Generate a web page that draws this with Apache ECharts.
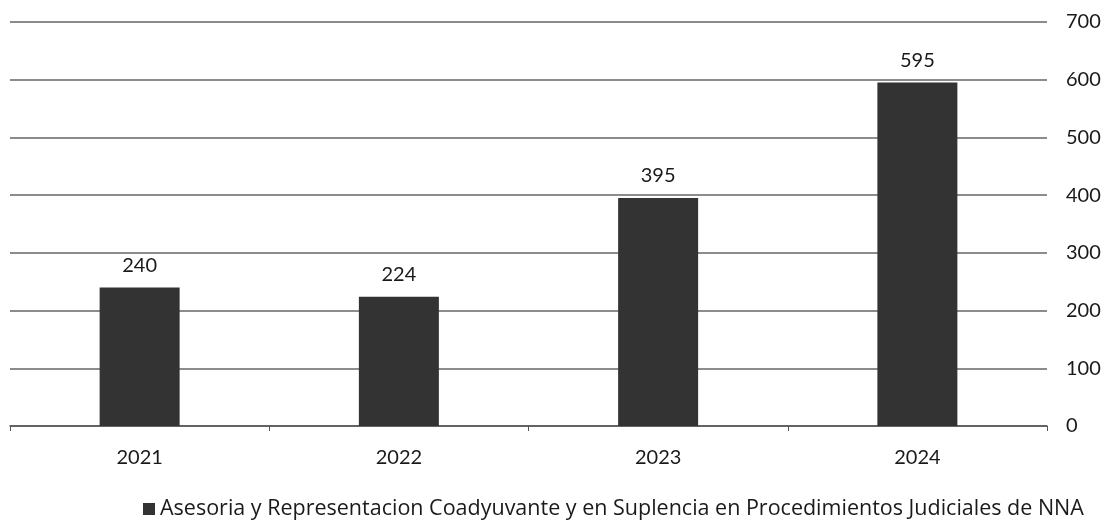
<!DOCTYPE html>
<html><head><meta charset="utf-8">
<script src="https://cdn.jsdelivr.net/npm/echarts@6/dist/echarts.min.js"></script>
<style>html,body{margin:0;padding:0;background:#fff}#c{width:1113px;height:529px}</style>
</head><body><div id="c"></div>
<script>
const categories = ['2021', '2022', '2023', '2024'];
const values = [240, 224, 395, 595];
const seriesName = 'Asesoria y Representacion Coadyuvante y en Suplencia en Procedimientos Judiciales de NNA';
const yTicks = [0, 100, 200, 300, 400, 500, 600, 700];

const FONT = 'Lato';
const chart = echarts.init(document.getElementById('c'));
chart.setOption({
  backgroundColor: '#fff',
  animation: false,
  textStyle: { fontFamily: FONT },
  grid: { left: 10, right: 66, top: 22, bottom: 103 },
  legend: {
    bottom: 4,
    left: 138,
    itemWidth: 12, itemHeight: 12, itemGap: 6,
    icon: 'rect',
    textStyle: { fontFamily: 'Open Sans', fontSize: 21.5, color: '#1a1a1a' },
    data: [seriesName]
  },
  xAxis: {
    type: 'category',
    data: categories,
    axisLine: { show: true, lineStyle: { color: '#555', width: 1.5 } },
    axisTick: { show: true, length: 5, lineStyle: { color: '#555' } },
    axisLabel: { fontFamily: FONT, fontSize: 20, color: '#1a1a1a', margin: 22 }
  },
  yAxis: {
    type: 'value',
    position: 'right',
    min: yTicks[0], max: yTicks[yTicks.length - 1], interval: 100,
    axisLine: { show: false },
    axisTick: { show: false },
    axisLabel: { fontFamily: FONT, fontSize: 20, color: '#1a1a1a', margin: 19, align: 'left' },
    splitLine: { show: true, lineStyle: { color: '#666', width: 1.5 } }
  },
  series: [{
    name: seriesName,
    type: 'bar',
    data: values,
    barWidth: 80,
    itemStyle: { color: '#333' },
    label: { show: true, position: 'top', distance: 12, fontFamily: FONT, fontSize: 20, color: '#1a1a1a' }
  }]
});
</script></body></html>
